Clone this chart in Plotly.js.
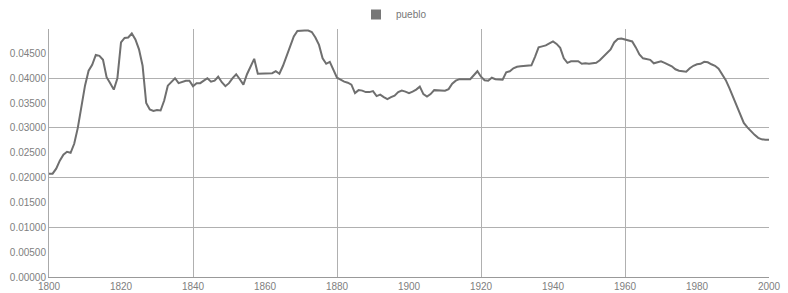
<!DOCTYPE html>
<html>
<head>
<meta charset="utf-8">
<script src="https://cdn.plot.ly/plotly-3.0.1.min.js"></script>
<style>html,body{margin:0;padding:0;background:#fff;}#chart{width:788px;height:293px;}</style>
</head>
<body>
<div id="chart"></div>
<script>
var seriesName = "pueblo";
var startYear = 1800;
var values = [
0.0208,0.0208,0.0218,0.0234,0.0246,0.0252,0.0250,0.0268,0.0300,0.0344,
0.0385,0.0415,0.0427,0.0447,0.0445,0.0437,0.0402,0.0390,0.0377,0.0400,
0.0472,0.0481,0.0482,0.0490,0.0478,0.0458,0.0425,0.0350,0.0337,0.0334,
0.0336,0.0335,0.0355,0.0385,0.0392,0.0400,0.0390,0.0393,0.0395,0.0395,
0.0384,0.0390,0.0390,0.0395,0.0400,0.0393,0.0395,0.0403,0.0392,0.0384,
0.0390,0.0400,0.0408,0.0398,0.0387,0.0408,0.0422,0.0439,0.0409,0.0409,
0.0410,0.0410,0.0410,0.0414,0.0409,0.0425,0.0445,0.0465,0.0484,0.0495,
0.0496,0.0496,0.0496,0.0493,0.0482,0.0467,0.0440,0.0429,0.0433,0.0418,
0.0401,0.0397,0.0393,0.0391,0.0387,0.0370,0.0376,0.0375,0.0372,0.0372,
0.0374,0.0364,0.0367,0.0362,0.0358,0.0362,0.0365,0.0372,0.0375,0.0373,
0.0370,0.0373,0.0377,0.0383,0.0368,0.0363,0.0368,0.0376,0.0376,0.0376,
0.0375,0.0378,0.0389,0.0395,0.0398,0.0398,0.0398,0.0398,0.0406,0.0414,
0.0403,0.0396,0.0395,0.0401,0.0398,0.0398,0.0397,0.0412,0.0414,0.0420,
0.0423,0.0424,0.0425,0.0425,0.0426,0.0443,0.0462,0.0464,0.0466,0.0470,
0.0474,0.0469,0.0461,0.0440,0.0431,0.0434,0.0434,0.0434,0.0429,0.0430,
0.0429,0.0430,0.0431,0.0436,0.0444,0.0450,0.0458,0.0472,0.0479,0.0480,
0.0478,0.0476,0.0474,0.0462,0.0448,0.0440,0.0439,0.0437,0.0430,0.0432,
0.0434,0.0431,0.0427,0.0424,0.0418,0.0415,0.0414,0.0413,0.0420,0.0425,
0.0428,0.0429,0.0433,0.0432,0.0428,0.0425,0.0419,0.0408,0.0396,0.0380,
0.0362,0.0346,0.0325,0.0310,0.0301,0.0293,0.0286,0.0280,0.0277,0.0276,
0.0276
];
var years = values.map(function(v, i){ return startYear + i; });
var xTickVals = [1800,1820,1840,1860,1880,1900,1920,1940,1960,1980,2000];
var yTickVals = [0,0.005,0.01,0.015,0.02,0.025,0.03,0.035,0.04,0.045];

var lineColor = "#6f6f6f";
var tickFont = {family: "Liberation Sans, Arial, sans-serif", size: 10, color: "#808080"};

var traces = [
  {x: years, y: values, type: "scatter", mode: "lines", name: seriesName,
   line: {color: lineColor, width: 2}, showlegend: false, xaxis: "x", yaxis: "y",
   hovertemplate: "%{x}: %{y:.5f}%<extra></extra>"},
  {x: [null], y: [null], type: "scatter", mode: "markers", name: seriesName,
   marker: {symbol: "square", size: 10, color: "#777777"}, showlegend: true,
   xaxis: "x2", yaxis: "y2"}
];

var layout = {
  width: 788, height: 293,
  margin: {l: 49, r: 19, t: 22, b: 16, pad: 0},
  paper_bgcolor: "#ffffff", plot_bgcolor: "#ffffff",
  showlegend: true,
  legend: {orientation: "h", xref: "container", x: 0.5, xanchor: "center",
           yref: "container", y: 1, yanchor: "top",
           font: {family: "Liberation Sans, Arial, sans-serif", size: 10, color: "#777777"},
           itemwidth: 30, bgcolor: "rgba(0,0,0,0)"},
  xaxis: {range: [1800, 2000], tickmode: "array", tickvals: xTickVals,
          showgrid: false, zeroline: false, showline: true, linecolor: "#999999", linewidth: 1,
          ticks: "", tickfont: tickFont, fixedrange: true},
  yaxis: {range: [0, 0.0499], tickmode: "array", tickvals: yTickVals,
          tickformat: ".5f", ticksuffix: "%",
          showgrid: false, zeroline: false, showline: true, linecolor: "#aaaaaa", linewidth: 1,
          ticks: "", tickfont: tickFont, fixedrange: true},
  xaxis2: {range: [1800, 2000], overlaying: "x", anchor: "y", dtick: 40, tick0: 1800,
           showgrid: true, gridcolor: "#b0b0b0", gridwidth: 1, showticklabels: false,
           zeroline: false, showline: false, ticks: "", fixedrange: true},
  yaxis2: {range: [0, 0.0499], overlaying: "y", anchor: "x", dtick: 0.01, tick0: 0,
           showgrid: true, gridcolor: "#b0b0b0", gridwidth: 1, showticklabels: false,
           zeroline: false, showline: false, ticks: "", fixedrange: true}
};

Plotly.newPlot("chart", traces, layout, {displayModeBar: false, staticPlot: true});
</script>
</body>
</html>
